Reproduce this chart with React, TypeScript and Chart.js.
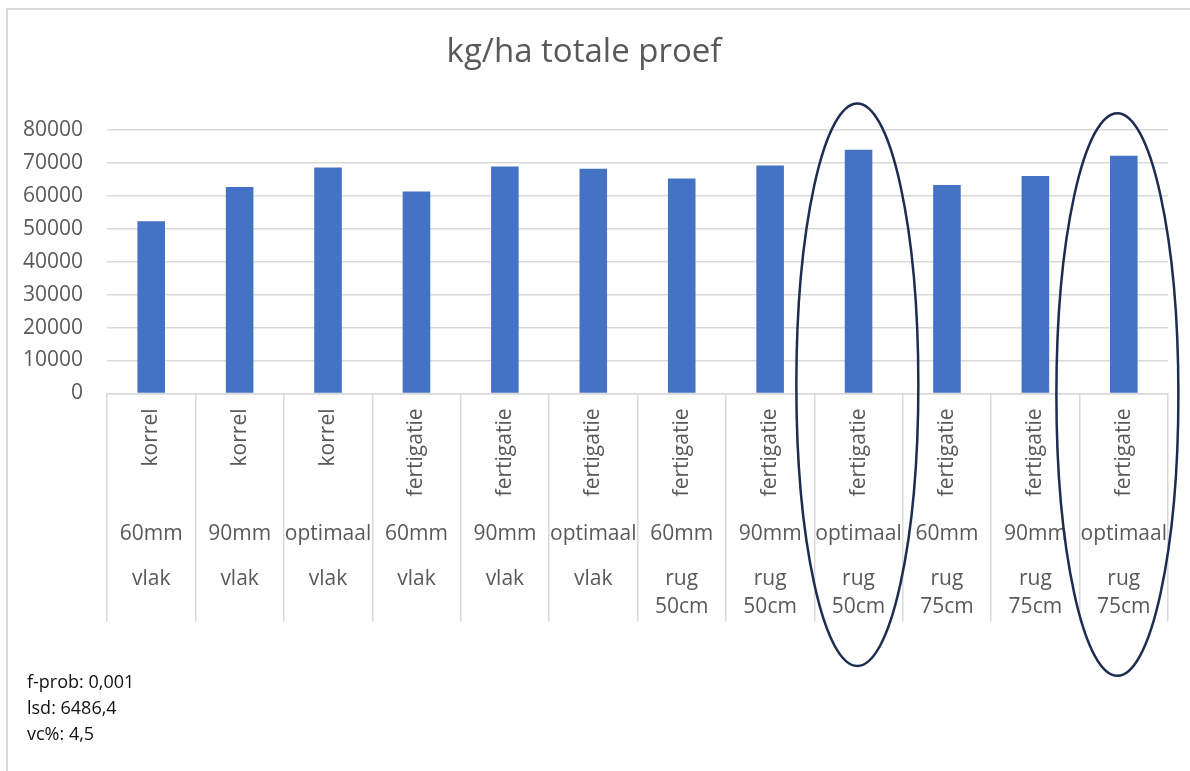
import React, { useEffect, useRef } from "react";
import { Chart, registerables } from "chart.js";

Chart.register(...registerables);

// Treatment levels per bar (three-level category axis)
const methodLabels = [
  "korrel", "korrel", "korrel",
  "fertigatie", "fertigatie", "fertigatie",
  "fertigatie", "fertigatie", "fertigatie",
  "fertigatie", "fertigatie", "fertigatie",
];
const doseLabels = [
  "60mm", "90mm", "optimaal",
  "60mm", "90mm", "optimaal",
  "60mm", "90mm", "optimaal",
  "60mm", "90mm", "optimaal",
];
const bedLabels = [
  "vlak", "vlak", "vlak",
  "vlak", "vlak", "vlak",
  "rug 50cm", "rug 50cm", "rug 50cm",
  "rug 75cm", "rug 75cm", "rug 75cm",
];

// Yield in kg/ha
const yieldValues = [52200, 62600, 68500, 61200, 68800, 68100, 65200, 69100, 73900, 63200, 65900, 72100];

const yTicks = [0, 10000, 20000, 30000, 40000, 50000, 60000, 70000, 80000];

// Highlighted treatments (circled)
const highlighted = [8, 11];

const statLines = ["f-prob: 0,001", "lsd: 6486,4", "vc%: 4,5"];

const FONT = '"Open Sans", "Noto Sans", sans-serif';
const TEXT = "#595959";
const GRID = "#d9d9d9";

const categoryLabelsPlugin = {
  id: "categoryLabels",
  afterDraw(chart: any) {
    const { ctx } = chart;
    const x = chart.scales.x;
    const top = x.top;
    ctx.save();
    ctx.fillStyle = TEXT;
    ctx.font = `21px ${FONT}`;
    for (let i = 0; i < methodLabels.length; i++) {
      const cx = x.getPixelForValue(i);
      // rotated method label, anchored to the top of the axis
      ctx.save();
      ctx.translate(cx, top + 15);
      ctx.rotate(-Math.PI / 2);
      ctx.textAlign = "right";
      ctx.textBaseline = "middle";
      ctx.fillText(methodLabels[i], 0, 0);
      ctx.restore();

      ctx.textAlign = "center";
      ctx.textBaseline = "middle";
      ctx.fillText(doseLabels[i], cx, top + 141);
      const parts = bedLabels[i].split(" ");
      parts.forEach((p, k) => ctx.fillText(p, cx, top + 186 + k * 28));
    }
    ctx.restore();
  },
};

const highlightPlugin = {
  id: "highlight",
  afterDraw(chart: any) {
    const { ctx } = chart;
    const x = chart.scales.x;
    const shifts = [-1.2, -6.4];
    const centersY = [384.7, 394.5];
    ctx.save();
    ctx.strokeStyle = "#1c2d4f";
    ctx.lineWidth = 2.5;
    highlighted.forEach((idx, k) => {
      const cx = x.getPixelForValue(idx) + shifts[k];
      ctx.beginPath();
      ctx.ellipse(cx, centersY[k], 61, 281.3, 0, 0, Math.PI * 2);
      ctx.stroke();
    });
    ctx.restore();
  },
};

export default function App() {
  const canvasRef = useRef<HTMLCanvasElement | null>(null);

  useEffect(() => {
    if (!canvasRef.current) return;
    const chart = new Chart(canvasRef.current, {
      type: "bar",
      data: {
        labels: doseLabels,
        datasets: [
          {
            label: "kg/ha",
            data: yieldValues,
            backgroundColor: "#4472c4",
            barPercentage: 0.312,
            categoryPercentage: 1,
          },
        ],
      },
      options: {
        responsive: false,
        animation: false,
        layout: { padding: { left: 0, right: 22, top: 0, bottom: 149.5 } },
        plugins: {
          legend: { display: false },
          tooltip: { enabled: false },
          title: {
            display: true,
            text: "kg/ha totale proef",
            color: TEXT,
            font: { family: FONT, size: 33, weight: "normal" },
            padding: { top: 33, bottom: 57 },
          },
        },
        scales: {
          x: {
            type: "category",
            grid: {
              display: true,
              offset: true,
              drawOnChartArea: false,
              drawTicks: true,
              tickLength: 228,
              color: GRID,
              lineWidth: 1.5,
            },
            border: { display: true, color: GRID, width: 1.5 },
            ticks: { display: false },
            afterFit(scale: any) {
              scale.height = 228;
            },
          },
          y: {
            min: 0,
            max: 80000,
            afterBuildTicks(scale: any) {
              scale.ticks = yTicks.map((v) => ({ value: v }));
            },
            grid: { color: GRID, lineWidth: 1.5, drawTicks: false },
            border: { display: false },
            ticks: {
              color: TEXT,
              font: { family: FONT, size: 21 },
              padding: 24,
              callback: (v: any) => String(v),
            },
            afterFit(scale: any) {
              scale.width = 107;
            },
          },
        },
      },
      plugins: [categoryLabelsPlugin, highlightPlugin],
    });
    return () => chart.destroy();
  }, []);

  return (
    <div
      style={{
        position: "absolute",
        left: 0,
        top: 0,
        width: 1190,
        height: 771,
        background: "#fff",
        overflow: "hidden",
      }}
    >
      <div
        style={{
          position: "absolute",
          left: 6,
          top: 8,
          right: -10,
          bottom: -10,
          borderLeft: `2px solid ${GRID}`,
          borderTop: `2px solid ${GRID}`,
        }}
      />
      <canvas
        ref={canvasRef}
        width={1190}
        height={771}
        style={{ position: "absolute", left: 0, top: 0 }}
      />
      <div
        style={{
          position: "absolute",
          left: 27,
          top: 668,
          fontFamily: FONT,
          fontSize: 18,
          lineHeight: "26px",
          color: "#111",
        }}
      >
        {statLines.map((s) => (
          <div key={s}>{s}</div>
        ))}
      </div>
    </div>
  );
}
